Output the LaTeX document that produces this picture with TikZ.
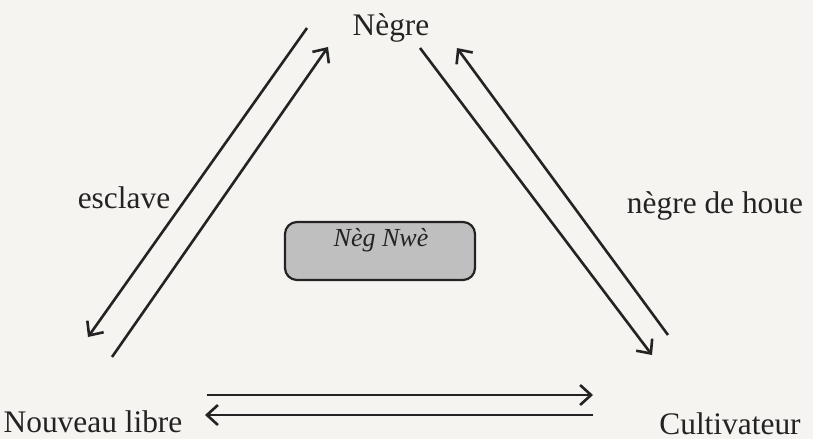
\documentclass[tikz,border=0pt]{standalone}
\usepackage{fontspec}
\setmainfont{Liberation Serif}
\usetikzlibrary{arrows.meta,patterns}
\definecolor{paper}{RGB}{245,244,241}
\definecolor{ink}{RGB}{35,35,35}
\tikzset{
  lbl/.style={font=\fontsize{15.7}{18}\selectfont, text=ink, inner sep=0pt, anchor=base},
  conn/.style={draw=ink, line width=1.3pt, -{Straight Barb[length=5.5pt,width=10pt,line width=1.3pt]}},
  centerbox/.style={draw=ink, line width=1.1pt, rounded corners=6pt, fill=gray!50,
     minimum width=95pt, minimum height=29pt, inner sep=0pt}
}
\begin{document}
\begin{tikzpicture}[x=0.5pt,y=-0.5pt]
\fill[paper] (0,0) rectangle (813,439);
\useasboundingbox (0,0) rectangle (813,439);
% labels
\node[lbl] (negre) at (391,35) {Nègre};
\node[lbl] (esclave) at (124,208) {esclave};
\node[lbl] (houe) at (715,213) {nègre de houe};
\node[lbl] (libre) at (93,432) {Nouveau libre};
\node[lbl] (cult) at (730,434) {Cultivateur};
% central box
\node[centerbox] (neg) at (380,251) {};
\node[font=\fontsize{13}{14}\selectfont\itshape, text=ink, inner sep=0pt, anchor=base] (negtxt) at (381,246) {Nèg Nwè};
% coordinates
\coordinate (l1a) at (307,28);
\coordinate (l1b) at (88,337);
\coordinate (l2a) at (112,357);
\coordinate (l2b) at (328,47);
\coordinate (r1a) at (420,48);
\coordinate (r1b) at (652,355);
\coordinate (r2a) at (668,335);
\coordinate (r2b) at (457,48);
\coordinate (b1a) at (207,395);
\coordinate (b1b) at (593,395);
\coordinate (b2a) at (593,415);
\coordinate (b2b) at (205,415);
% connectors
\draw[conn] (l1a) -- (l1b);
\draw[conn] (l2a) -- (l2b);
\draw[conn] (r1a) -- (r1b);
\draw[conn] (r2a) -- (r2b);
\draw[conn] (b1a) -- (b1b);
\draw[conn] (b2a) -- (b2b);
\end{tikzpicture}
\end{document}
